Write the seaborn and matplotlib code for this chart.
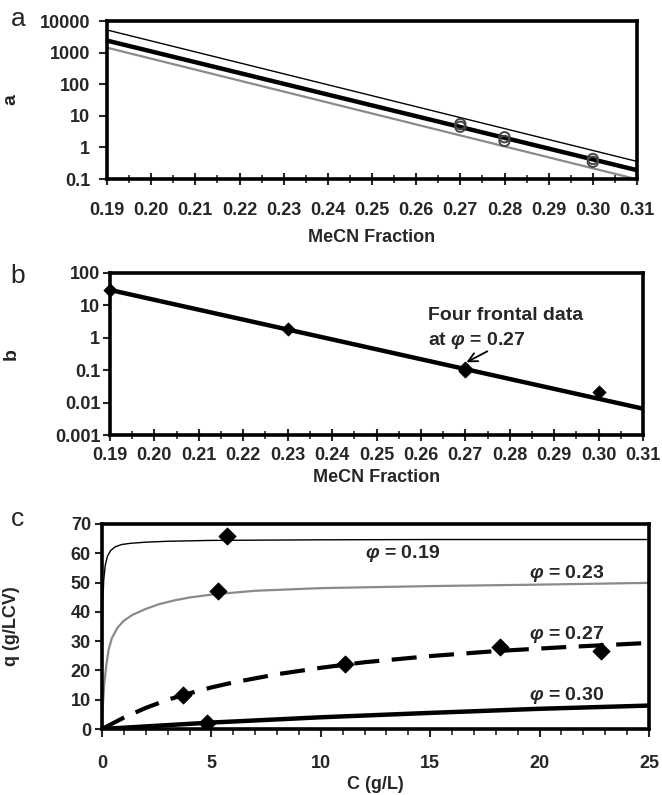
import numpy as np
import pandas as pd
import seaborn as sns
import matplotlib.pyplot as plt
from matplotlib.ticker import MultipleLocator, NullLocator

# %% data
mecn_ticks = [0.19, 0.20, 0.21, 0.22, 0.23, 0.24, 0.25, 0.26, 0.27, 0.28, 0.29, 0.30, 0.31]
mecn_labels = ['0.19', '0.20', '0.21', '0.22', '0.23', '0.24', '0.25', '0.26', '0.27', '0.28', '0.29', '0.30', '0.31']

# panel a
a_fit_x = [0.19, 0.31]
a_upper = [5200, 0.36]
a_mid = [2400, 0.19]
a_lower = [1430, 0.098]
a_pts_x = [0.27, 0.27, 0.28, 0.28, 0.30, 0.30]
a_pts_y = [5.5, 4.5, 2.1, 1.6, 0.43, 0.35]
a_yticks = [0.1, 1, 10, 100, 1000, 10000]
a_ylabels = ['0.1', '1', '10', '100', '1000', '10000']

# panel b
b_fit_x = [0.19, 0.31]
b_fit = [30, 0.0065]
b_pts_x = [0.19, 0.23, 0.27, 0.27, 0.27, 0.27, 0.30]
b_pts_y = [30, 1.85, 0.12, 0.105, 0.095, 0.11, 0.021]
b_yticks = [0.001, 0.01, 0.1, 1, 10, 100]
b_ylabels = ['0.001', '0.01', '0.1', '1', '10', '100']

# panel c (isotherm curves)
c19_C = [0, 0.03, 0.08, 0.15, 0.25, 0.4, 0.6, 0.9, 1.3, 2, 3, 5, 10, 15, 20, 25]
c19_q = [0, 42, 51, 56, 59, 61, 62.2, 63, 63.4, 63.8, 64.1, 64.4, 64.6, 64.7, 64.7, 64.7]
c23_C = [0, 0.04, 0.1, 0.2, 0.3, 0.45, 0.7, 1.0, 1.4, 2, 2.6, 3.3, 4, 5, 7, 10, 15, 20, 25]
c23_q = [0, 8, 15, 22, 27, 31, 34.5, 37, 39, 41, 42.6, 43.9, 44.9, 45.9, 47.2, 48.1, 48.8, 49.3, 49.9]
c27_C = [0, 1, 2, 3, 4, 5, 6, 8, 10, 12, 15, 18, 21, 25]
c27_q = [0, 3.9, 7.2, 10, 12.2, 14.2, 15.9, 18.7, 20.9, 22.8, 24.9, 26.6, 27.9, 29.4]
c30_C = [0, 5, 10, 15, 20, 25]
c30_q = [0, 2.2, 4, 5.5, 6.9, 8]
c_pts_C = [5.7, 5.3, 3.7, 11.1, 18.2, 22.8, 4.8]
c_pts_q = [66, 47, 11.5, 22.3, 28, 26.8, 2]
c_lab_x = [12.0, 19.5, 19.5, 19.5]
c_lab_y = [60, 53.2, 32.3, 11.3]
c_lab_txt = [r'$\varphi$ = 0.19', r'$\varphi$ = 0.23', r'$\varphi$ = 0.27', r'$\varphi$ = 0.30']

# %% style
sns.set_style('ticks')
plt.rcParams['font.family'] = ['Liberation Sans', 'DejaVu Sans']
plt.rcParams['font.weight'] = 'bold'
plt.rcParams['axes.labelweight'] = 'bold'
plt.rcParams['mathtext.fontset'] = 'custom'
plt.rcParams['mathtext.it'] = 'Liberation Sans:italic:bold'
plt.rcParams['mathtext.rm'] = 'Liberation Sans:bold'
plt.rcParams['mathtext.bf'] = 'Liberation Sans:bold'
fs = 13
grey = '#8a8a8a'

fig = plt.figure(figsize=(6.62, 7.95), dpi=100)
W, H = 662, 795
def box(l, t, r, b):
    return [l / W, 1 - b / H, (r - l) / W, (b - t) / H]

ax_a = fig.add_axes(box(107, 21, 637, 179))
ax_b = fig.add_axes(box(110, 273, 643, 435))
ax_c = fig.add_axes(box(102, 524, 649, 729))

def frame(ax):
    for s in ax.spines.values():
        s.set_linewidth(2.6)
        s.set_color('black')

# %% panel a
for yv, col, lw in [(a_upper, 'black', 1.0), (a_lower, grey, 1.6), (a_mid, 'black', 3.2)]:
    sns.lineplot(x=a_fit_x, y=yv, ax=ax_a, color=col, lw=lw, estimator=None, sort=False)
sns.scatterplot(x=a_pts_x, y=a_pts_y, ax=ax_a, marker='o', s=55, facecolor='none',
                edgecolor='#444444', linewidth=1.4, zorder=5)
ax_a.set_yscale('log')
ax_a.set_xlim(0.19, 0.31)
ax_a.set_ylim(0.1, 10000)
ax_a.set_yticks(a_yticks)
ax_a.set_yticklabels(a_ylabels)
ax_a.yaxis.set_minor_locator(NullLocator())
ax_a.set_xticks(mecn_ticks)
ax_a.set_xticklabels(mecn_labels)
ax_a.xaxis.set_minor_locator(MultipleLocator(0.005))
ax_a.tick_params(axis='x', which='major', direction='inout', length=9, width=1.5, pad=12, labelsize=fs)
ax_a.tick_params(axis='x', which='minor', direction='inout', length=6, width=1.2)
ax_a.tick_params(axis='y', which='major', direction='out', length=6, width=1.5, pad=6, labelsize=fs)
ax_a.set_xlabel('MeCN Fraction', fontsize=fs)
ax_a.set_ylabel('a', fontsize=14)
ax_a.xaxis.set_label_coords(0.5, -0.37)
ax_a.xaxis.label.set_va('center')
ax_a.yaxis.set_label_coords(-0.165, 0.5)
frame(ax_a)

# %% panel b
sns.lineplot(x=b_fit_x, y=b_fit, ax=ax_b, color='black', lw=3.2, estimator=None, sort=False)
sns.scatterplot(x=b_pts_x, y=b_pts_y, ax=ax_b, marker='D', s=45, color='black',
                edgecolor='black', zorder=5, clip_on=False)
ax_b.set_yscale('log')
ax_b.set_xlim(0.19, 0.31)
ax_b.set_ylim(0.001, 100)
ax_b.set_yticks(b_yticks)
ax_b.set_yticklabels(b_ylabels)
ax_b.yaxis.set_minor_locator(NullLocator())
ax_b.set_xticks(mecn_ticks)
ax_b.set_xticklabels(mecn_labels)
ax_b.xaxis.set_minor_locator(MultipleLocator(0.005))
ax_b.tick_params(axis='x', which='major', direction='inout', length=9, width=1.5, pad=4, labelsize=fs)
ax_b.tick_params(axis='x', which='minor', direction='inout', length=6, width=1.2)
ax_b.tick_params(axis='y', which='major', direction='out', length=5, width=1.5, pad=2, labelsize=fs)
ax_b.set_xlabel('MeCN Fraction', fontsize=fs)
ax_b.set_ylabel('b', fontsize=14)
ax_b.xaxis.set_label_coords(0.5, -0.26)
ax_b.xaxis.label.set_va('center')
ax_b.yaxis.set_label_coords(-0.17, 0.5)
ax_b.text(0.2616, 5.0, 'Four frontal data', fontsize=14, va='center', ha='left')
ax_b.text(0.2616, 0.85, r'at $\varphi$ = 0.27', fontsize=14, va='center', ha='left')
ax_b.annotate('', xy=(0.2697, 0.16), xytext=(0.2755, 0.42),
              arrowprops=dict(arrowstyle='->', lw=1.3, color='black', mutation_scale=16))
frame(ax_b)

# %% panel c
curves = pd.concat([
    pd.DataFrame({'C': c19_C, 'q': c19_q, 'phi': '0.19'}),
    pd.DataFrame({'C': c23_C, 'q': c23_q, 'phi': '0.23'}),
    pd.DataFrame({'C': c27_C, 'q': c27_q, 'phi': '0.27'}),
    pd.DataFrame({'C': c30_C, 'q': c30_q, 'phi': '0.30'}),
])
styles = {'0.19': ('black', 1.0, '-'), '0.23': (grey, 1.6, '-'),
          '0.27': ('black', 3.0, (0, (6, 3))), '0.30': ('black', 3.2, '-')}
for phi, d in curves.groupby('phi'):
    col, lw, ls = styles[phi]
    sns.lineplot(data=d, x='C', y='q', ax=ax_c, color=col, lw=lw, linestyle=ls,
                 estimator=None, sort=False)
sns.scatterplot(x=c_pts_C, y=c_pts_q, ax=ax_c, marker='D', s=75, color='black',
                edgecolor='black', zorder=5)
for x, y, t in zip(c_lab_x, c_lab_y, c_lab_txt):
    ax_c.text(x, y, t, fontsize=14, va='center', ha='left')
ax_c.set_xlim(0, 25)
ax_c.set_ylim(0, 70)
ax_c.xaxis.set_major_locator(MultipleLocator(5))
ax_c.xaxis.set_minor_locator(MultipleLocator(1))
ax_c.yaxis.set_major_locator(MultipleLocator(10))
ax_c.tick_params(axis='x', which='major', direction='out', length=6, width=1.5, pad=13, labelsize=fs)
ax_c.tick_params(axis='x', which='minor', direction='out', length=4, width=1.2)
ax_c.tick_params(axis='y', which='major', direction='out', length=5, width=1.5, pad=3, labelsize=fs)
ax_c.set_xlabel('C (g/L)', fontsize=fs)
ax_c.set_ylabel('q (g/LCV)', fontsize=fs)
ax_c.xaxis.set_label_coords(0.5, -0.27)
ax_c.xaxis.label.set_va('center')
ax_c.yaxis.set_label_coords(-0.15, 0.5)
frame(ax_c)

# panel letters
for lab, yy in [('a', 19), ('b', 276), ('c', 519)]:
    fig.text(18 / W, 1 - yy / H, lab, fontsize=19, fontweight='normal', ha='center', va='center')

fig.savefig('out.png', dpi=100)
